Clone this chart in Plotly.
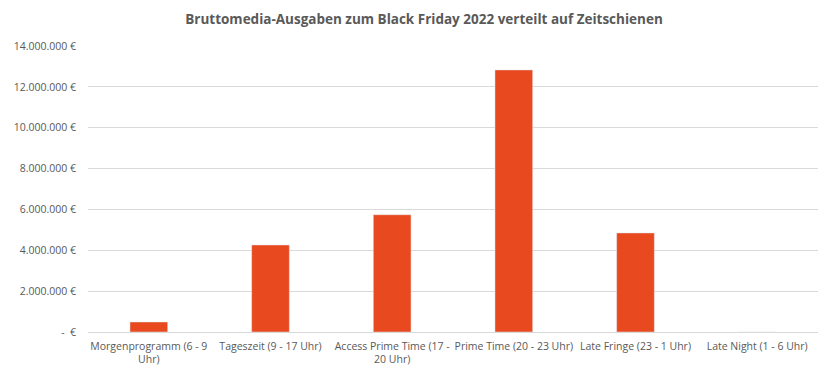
import plotly.graph_objects as go

categories = ["Morgenprogramm (6 - 9<br>Uhr)", "Tageszeit (9 - 17 Uhr)", "Access Prime Time (17 -<br>20 Uhr)",
              "Prime Time (20 - 23 Uhr)", "Late Fringe (23 - 1 Uhr)", "Late Night (1 - 6 Uhr)"]
values = [490000, 4260000, 5740000, 12830000, 4850000, 0]
tick_vals = [0, 2000000, 4000000, 6000000, 8000000, 10000000, 12000000, 14000000]

def fmt(v):
    if v == 0:
        return "-  €"
    return f"{v:,.0f}".replace(",", ".") + " €"

fig = go.Figure(go.Bar(x=categories, y=values, marker_color="#E8491E", width=0.31))
fig.update_layout(
    width=832, height=379,
    margin=dict(l=80, r=22, t=38, b=55),
    paper_bgcolor="white", plot_bgcolor="white",
    title=dict(text="<b>Bruttomedia-Ausgaben zum Black Friday 2022 verteilt auf Zeitschienen</b>",
               x=0.5, xanchor="center", y=0.971, yanchor="middle",
               font=dict(family="Open Sans", size=13.5, color="#595959")),
    font=dict(family="Open Sans", size=10, color="#595959"),
    showlegend=False,
)
fig.update_yaxes(range=[0, 14000000], tickvals=tick_vals, ticktext=[fmt(v) for v in tick_vals],
                 showgrid=True, gridcolor="#D9D9D9", zeroline=False, showline=False, automargin=False,
                 ticklabelstandoff=11, tickfont=dict(size=10.5, color="#595959"))
fig.update_xaxes(showline=True, linecolor="#D9D9D9", showgrid=False, tickangle=0, automargin=False,
                 ticklabelstandoff=4, tickfont=dict(size=10.5, color="#595959"))
fig.write_html("out.html")
